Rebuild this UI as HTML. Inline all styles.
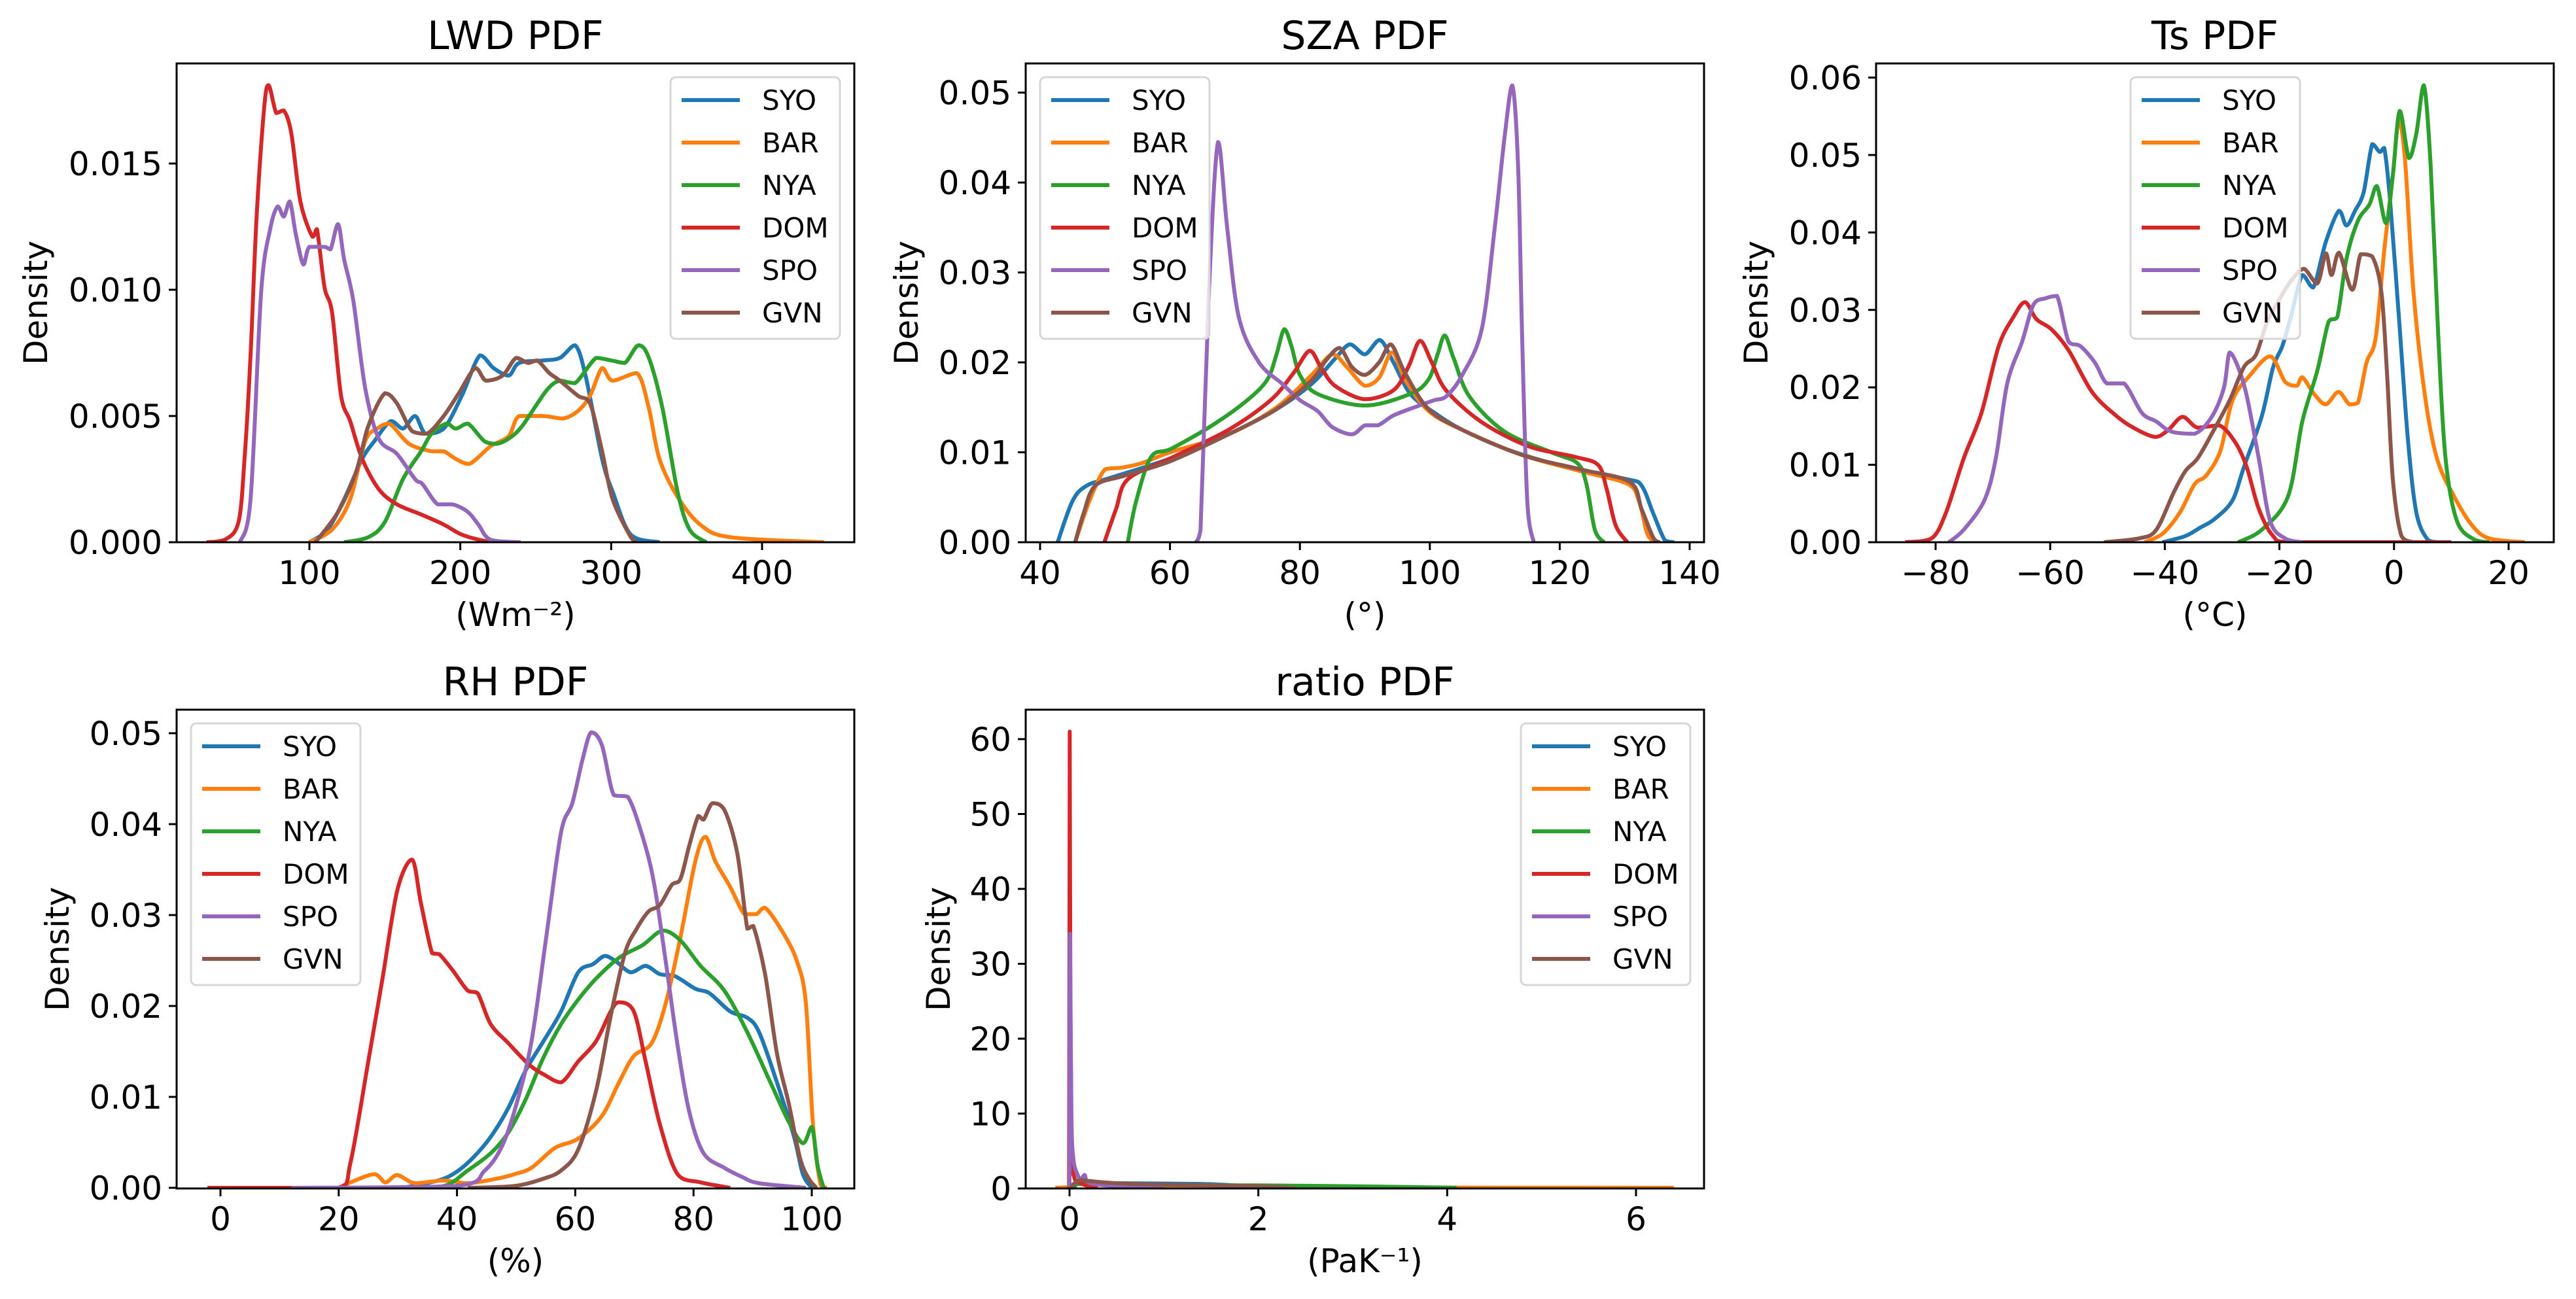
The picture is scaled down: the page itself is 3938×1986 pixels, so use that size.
<!DOCTYPE html>
<html><head><meta charset="utf-8"><style>
html,body{margin:0;padding:0;background:#fff;}
svg{display:block;font-family:"DejaVu Sans","Liberation Sans",sans-serif;}
</style></head><body>
<svg id="fig" xmlns="http://www.w3.org/2000/svg" width="3938" height="1986" viewBox="0 0 3938 1986"></svg>
<script>
// ---------- DATA ----------
const stations = ["SYO","BAR","NYA","DOM","SPO","GVN"];
const colors = ["#1f77b4","#ff7f0e","#2ca02c","#d62728","#9467bd","#8c564b"];

// LWD
const lwd_SYO_x=[100,112,123,135,143,154,162,170,177,189,201,213,222,232,239,255,266,276,283,294,301,313,332];
const lwd_SYO_y=[0,0.0005,0.0017,0.0033,0.004,0.0048,0.0045,0.005,0.0043,0.0045,0.0058,0.0074,0.0069,0.0066,0.0071,0.0072,0.0073,0.0078,0.0066,0.0033,0.002,0.0003,0];
const lwd_BAR_x=[100,115,127,137,145,153,166,181,189,197,206,220,232,239,255,268,278,286,294,301,317,325,332,344,359,379,441];
const lwd_BAR_y=[0,0.0005,0.0017,0.004,0.0045,0.0047,0.0039,0.0036,0.0036,0.0033,0.0031,0.0038,0.0042,0.005,0.005,0.0049,0.0052,0.0058,0.0069,0.0064,0.0067,0.0053,0.0033,0.0018,0.0007,0.0002,0];
const lwd_NYA_x=[123,139,150,162,174,181,191,197,205,216,224,232,241,257,266,276,290,300,309,318,325,334,344,352,363];
const lwd_NYA_y=[0,0.0002,0.0008,0.0025,0.0036,0.0043,0.0047,0.0045,0.0047,0.004,0.0039,0.0041,0.0046,0.006,0.0064,0.0063,0.0073,0.0072,0.0071,0.0078,0.0073,0.0053,0.002,0.0005,0];
const lwd_DOM_x=[32,44,53,57,61,65,70,73,78,83,88,94,102,105,110,115,121,127,135,146,158,174,189,201,216,225];
const lwd_DOM_y=[0,0.0001,0.0008,0.0033,0.0074,0.0129,0.0172,0.0181,0.0170,0.0171,0.0162,0.0135,0.0121,0.0124,0.0101,0.0091,0.0058,0.0048,0.0033,0.0021,0.0015,0.0011,0.0007,0.0003,0.00005,0];
const lwd_SPO_x=[54,61,68,74,79,83,87,91,96,100,110,114,119,123,129,137,146,158,170,175,185,195,205,212,220,240];
const lwd_SPO_y=[0,0.0017,0.0099,0.0124,0.0133,0.0129,0.0135,0.0122,0.011,0.0117,0.0117,0.0116,0.0126,0.0112,0.0096,0.0061,0.0041,0.0035,0.0025,0.0023,0.0015,0.0015,0.0012,0.0007,0.0001,0];
const lwd_GVN_x=[104,119,131,139,150,158,168,178,189,199,210,217,228,237,245,251,259,266,278,286,294,301,313,317];
const lwd_GVN_y=[0,0.0012,0.0028,0.0046,0.0059,0.0055,0.0044,0.0043,0.005,0.0059,0.0069,0.0064,0.0066,0.0073,0.0071,0.0072,0.0067,0.0064,0.0058,0.0055,0.0036,0.0017,0.0002,0];

// SZA
const sza_SYO_x=[42.7,45,47.2,51,60,69,76.4,81.8,85.4,87.7,90,92.3,94.4,97,100.7,105,112.4,121.4,130.4,132.6,134.4,136.2,137.6];
const sza_SYO_y=[0,0.0046,0.0063,0.0072,0.0093,0.012,0.0148,0.0176,0.0204,0.022,0.0209,0.0225,0.02,0.0165,0.0144,0.0125,0.0102,0.0083,0.007,0.0063,0.0032,0.0002,0];
const sza_BAR_x=[45.4,47.6,50,52.6,55.7,60,69,76.4,81.8,85,87.2,90,92.2,94.2,96.2,99.8,105,114.2,123.2,130.4,132.2,133.5,134.9];
const sza_BAR_y=[0,0.0046,0.0081,0.0083,0.0088,0.01,0.012,0.015,0.0186,0.0209,0.0195,0.0174,0.0183,0.0211,0.0181,0.0146,0.0125,0.0097,0.0079,0.0065,0.0046,0.0009,0];
const sza_NYA_x=[53.5,54.8,57.1,60.2,66.5,71.9,75,76.4,77.6,78.7,80,82.7,90,97,99.8,101.2,102.3,103.7,106.1,111.5,118.7,122.7,124.1,125.4,126.8];
const sza_NYA_y=[0,0.0046,0.0095,0.0104,0.013,0.0158,0.0181,0.0209,0.0237,0.0218,0.0186,0.0165,0.0152,0.0165,0.0181,0.0209,0.023,0.0204,0.0162,0.0123,0.01,0.0088,0.0065,0.0014,0];
const sza_DOM_x=[49.9,51.7,53.5,60,69,75.5,79,81.5,83.2,85.4,90,94.4,96.7,98.5,100.3,102.5,107.9,115.1,122.3,125.9,127.2,128.6,130.4];
const sza_DOM_y=[0,0.0037,0.007,0.0093,0.0125,0.0158,0.0188,0.0213,0.0195,0.0174,0.0159,0.0169,0.0195,0.0224,0.02,0.0169,0.0134,0.0107,0.0095,0.0086,0.006,0.0019,0];
const sza_SPO_x=[64,64.7,66,67.4,68.8,70.6,73.7,77.3,80,82.7,85,88,90,92,94.4,98,100.7,102.5,105,108,110,111.5,112.7,113.6,114.2,115,116];
const sza_SPO_y=[0,0.0014,0.028,0.0445,0.035,0.025,0.02,0.0176,0.0158,0.0146,0.0128,0.012,0.013,0.013,0.0141,0.0151,0.0158,0.0162,0.0186,0.0237,0.035,0.045,0.0508,0.0417,0.0232,0.0046,0];
const sza_GVN_x=[45.4,46.7,48.5,53,60,69,76.4,81.8,84,86.1,88,90,92.2,94,96.2,99.8,105,114.2,123.2,130.8,132.6,134.4,135.3];
const sza_GVN_y=[0,0.0032,0.0063,0.0074,0.009,0.012,0.0148,0.018,0.0202,0.0216,0.0195,0.0186,0.02,0.022,0.0188,0.0148,0.0125,0.0097,0.0081,0.0067,0.0037,0.0005,0];

// Ts
const ts_SYO_x=[-40.4,-36.4,-33.8,-31.3,-28.2,-26.2,-23.1,-21.1,-19.5,-18,-16,-14.1,-11.9,-9.6,-8.3,-6.8,-5.3,-3.8,-2.5,-1.7,-0.7,0.8,2.4,3.9,5.9,7.5];
const ts_SYO_y=[0,0.0008,0.0019,0.003,0.0054,0.0097,0.0162,0.0226,0.0253,0.0291,0.0345,0.0329,0.0388,0.0428,0.0409,0.0428,0.0452,0.0514,0.0504,0.0509,0.0442,0.0296,0.0135,0.0038,0.0003,0];
const ts_BAR_x=[-43.5,-40.4,-37.4,-34.8,-32.8,-30.3,-28.2,-25.2,-21.6,-19,-17,-16,-13.9,-11.9,-9.7,-7.8,-6.3,-4.8,-3.2,-1.7,-0.2,0.8,1.9,3.4,5.4,7.5,10.5,13.6,16.6,22.8];
const ts_BAR_y=[0,0.0011,0.0038,0.0075,0.0086,0.0118,0.0183,0.0215,0.024,0.0207,0.0202,0.0213,0.0191,0.0178,0.0194,0.0178,0.018,0.0232,0.0264,0.0377,0.0474,0.0544,0.0496,0.0323,0.0189,0.0108,0.0059,0.0022,0.0005,0];
const ts_NYA_x=[-27.2,-23.1,-18.5,-16,-13.4,-11.4,-9.9,-8.3,-6.3,-4.3,-3,-1.4,-0.2,1,2.6,3.9,5.2,6.4,7.7,9,11,14.1,16.6];
const ts_NYA_y=[0,0.0016,0.0059,0.0156,0.0221,0.0285,0.0291,0.0366,0.0415,0.0436,0.046,0.0412,0.0474,0.0557,0.0496,0.0528,0.059,0.0485,0.0269,0.0108,0.0027,0.0003,0];
const ts_DOM_x=[-85.3,-80.7,-78.2,-75.1,-72,-69,-66.4,-64.4,-62.4,-59.8,-56.8,-52.7,-48.6,-45.5,-41.7,-39.4,-36.9,-34.3,-30.5,-27.7,-25.7,-23.6,-21.1,-18,10];
const ts_DOM_y=[0,0.0005,0.0038,0.0108,0.0167,0.0253,0.0291,0.031,0.0288,0.0275,0.0248,0.0194,0.0164,0.0148,0.0136,0.0145,0.0162,0.0148,0.0151,0.0129,0.0097,0.0043,0.0008,0,0];
const ts_SPO_x=[-77.7,-75.1,-71.5,-69.5,-67.5,-64.9,-62.9,-60.8,-58.8,-56.8,-54.7,-52.2,-50.1,-47.1,-44,-41.5,-38.9,-34.8,-31.8,-29.7,-28.7,-27.2,-25.7,-23.6,-21.6,-19,-16];
const ts_SPO_y=[0,0.0016,0.0054,0.0108,0.0205,0.0259,0.0307,0.0315,0.0318,0.0259,0.0253,0.0232,0.0205,0.0205,0.0167,0.0156,0.0143,0.014,0.0162,0.0199,0.0245,0.0226,0.0189,0.0108,0.0027,0.0005,0];
const ts_GVN_x=[-50.6,-44.5,-41.5,-38.4,-36.4,-34.3,-31.8,-28.7,-26.2,-24.1,-22.1,-19.5,-17.5,-15.7,-13.4,-11.9,-10.9,-9.6,-7.3,-5.8,-3.8,-2.2,-1.2,-0.2,1.3,3.4];
const ts_GVN_y=[0,0.0005,0.0016,0.0065,0.0092,0.0108,0.014,0.0183,0.0226,0.0242,0.0285,0.032,0.0342,0.0353,0.0334,0.0373,0.0345,0.0374,0.0326,0.0372,0.0369,0.0323,0.0215,0.0081,0.0008,0];

// RH
const rh_SYO_x=[30.9,36.8,39.8,42.7,45.7,48.7,51.6,54.6,57.6,60.5,63,65,66.9,69.4,71.9,74.3,76.8,80.3,82.7,86.2,89.1,91.1,94.1,97,98.5,100];
const rh_SYO_y=[0,0.0008,0.0017,0.0033,0.0056,0.0088,0.0129,0.0161,0.0194,0.0237,0.0246,0.0255,0.0249,0.0237,0.0244,0.0235,0.0233,0.0219,0.0214,0.0194,0.0187,0.0171,0.0116,0.0056,0.0015,0];
const rh_BAR_x=[20,22,26,27.9,29.9,32.9,37.8,41.8,46.7,49.7,52.6,56.6,60.5,64.5,67.4,69.9,72.9,75.3,77.8,80.3,82,83.7,86.2,88.6,90.6,92.1,95.1,97.5,99,100.2,101.5,102.5];
const rh_BAR_y=[0,0.0006,0.0015,0.0006,0.0014,0.0005,0.0008,0.0005,0.001,0.0015,0.0022,0.0044,0.0054,0.0079,0.0116,0.0145,0.0159,0.0203,0.0276,0.0359,0.0386,0.0359,0.0331,0.0301,0.0301,0.0308,0.0281,0.0249,0.0203,0.007,0.0003,0];
const rh_NYA_x=[30.9,37.8,41.8,45.7,48.7,51.6,54.6,57.6,60.5,63.5,67.4,71.4,74.8,77.8,81.2,85.2,89.1,93,96,98.5,100,101,102];
const rh_NYA_y=[0,0.0002,0.0019,0.0038,0.0061,0.0097,0.0143,0.018,0.0207,0.023,0.0253,0.0267,0.0283,0.0272,0.0244,0.0217,0.0171,0.0116,0.0074,0.0049,0.0067,0.0024,0];
const rh_DOM_x=[-2.2,20,22,25,27.4,29.9,32.4,33.9,35.8,37,39.3,41.8,43.5,45.7,48.7,52.1,54.6,57.6,60.5,63.5,66,67.4,69.9,71.9,74.3,77.3,81.2,86.2];
const rh_DOM_y=[0,0,0.0028,0.0139,0.023,0.0327,0.0361,0.0313,0.0258,0.0257,0.0239,0.0217,0.0214,0.018,0.0159,0.0136,0.0125,0.0116,0.0139,0.0161,0.0194,0.0204,0.0194,0.0139,0.007,0.0015,0.0006,0];
const rh_SPO_x=[12,39.8,44.7,47.7,50.1,52.6,55.1,57.6,59.5,61.3,62.7,64.5,66.5,68.9,71.4,73.3,75.3,77.3,79.3,81.7,85.2,88.2,91.1,99];
const rh_SPO_y=[0,0.0002,0.0019,0.0047,0.0093,0.0161,0.0276,0.0391,0.0423,0.0473,0.0501,0.0487,0.0432,0.043,0.0386,0.0336,0.0249,0.0157,0.0083,0.0038,0.0022,0.0012,0.0005,0];
const rh_GVN_x=[41.8,49.7,54.6,57.6,60.5,63.5,66,68.4,70.4,72.4,74.3,76.3,77.8,79.3,80.8,81.7,83.2,85.2,87.4,89.1,90.1,92.1,94.1,96.1,98,99.5,100.8];
const rh_GVN_y=[0,0.0002,0.001,0.0019,0.0042,0.0106,0.0189,0.0258,0.0285,0.0304,0.0311,0.0333,0.034,0.0377,0.0409,0.0405,0.0423,0.0416,0.0368,0.0285,0.0288,0.0235,0.0148,0.0093,0.0033,0.001,0];

// ratio
const ratio_SYO_x=[0.05,0.1,0.5,1.4,2,3,4];
const ratio_SYO_y=[0,0.8,0.7,0.6,0.3,0.1,0];
const ratio_BAR_x=[-0.15,0,0.1,0.5,2.1,3,6.4];
const ratio_BAR_y=[0.1,0.2,0.8,0.4,0.4,0.15,0.1];
const ratio_NYA_x=[0,0.1,0.5,2,3,4.1];
const ratio_NYA_y=[0,0.6,0.5,0.4,0.3,0.1];
const ratio_DOM_x=[-0.02,-0.005,0.002,0.008,0.02,0.05,0.1,0.2,0.3];
const ratio_DOM_y=[0,0,61,30,5,1.5,0.8,0.3,0];
const ratio_SPO_x=[0,0.005,0.02,0.04,0.08,0.12,0.16,0.2,0.4,0.8,1.0];
const ratio_SPO_y=[0,34,10,4,2,1.2,1.8,0.8,0.4,0.1,0];
const ratio_GVN_x=[0,0.1,0.2,0.5,1.0,2,2.4];
const ratio_GVN_y=[0,1.1,1.0,0.7,0.5,0.3,0];

// ticks
const lwdXTicks=[100,200,300,400], lwdYTicks=[0,0.005,0.010,0.015], lwdYLabels=["0.000","0.005","0.010","0.015"];
const szaXTicks=[40,60,80,100,120,140], szaYTicks=[0,0.01,0.02,0.03,0.04,0.05], szaYLabels=["0.00","0.01","0.02","0.03","0.04","0.05"];
const tsXTicks=[-80,-60,-40,-20,0,20], tsYTicks=[0,0.01,0.02,0.03,0.04,0.05,0.06], tsYLabels=["0.00","0.01","0.02","0.03","0.04","0.05","0.06"];
const rhXTicks=[0,20,40,60,80,100], rhYTicks=[0,0.01,0.02,0.03,0.04,0.05], rhYLabels=["0.00","0.01","0.02","0.03","0.04","0.05"];
const ratioXTicks=[0,2,4,6], ratioYTicks=[0,10,20,30,40,50,60], ratioYLabels=["0","10","20","30","40","50","60"];

// ---------- LAYOUT ----------
const panels=[
 {id:"lwd",title:"LWD PDF",xlabel:"(Wm\u207B\u00B2)",box:[270,97,1306,829],xa:[100,473,400,1165],ya:[0,829,0.015,250],
  xt:lwdXTicks,yt:lwdYTicks,yl:lwdYLabels,ylx:54,leg:[1025,118],
  xs:[lwd_SYO_x,lwd_BAR_x,lwd_NYA_x,lwd_DOM_x,lwd_SPO_x,lwd_GVN_x],ys:[lwd_SYO_y,lwd_BAR_y,lwd_NYA_y,lwd_DOM_y,lwd_SPO_y,lwd_GVN_y]},
 {id:"sza",title:"SZA PDF",xlabel:"(\u00B0)",box:[1568,97,2605,829],xa:[40,1590,140,2583],ya:[0,829,0.05,141.6],
  xt:szaXTicks,yt:szaYTicks,yl:szaYLabels,ylx:1385,leg:[1590,118],
  xs:[sza_SYO_x,sza_BAR_x,sza_NYA_x,sza_DOM_x,sza_SPO_x,sza_GVN_x],ys:[sza_SYO_y,sza_BAR_y,sza_NYA_y,sza_DOM_y,sza_SPO_y,sza_GVN_y]},
 {id:"ts",title:"Ts PDF",xlabel:"(\u00B0C)",box:[2868,97,3904,829],xa:[-80,2959,20,3835],ya:[0,829,0.06,118.6],
  xt:tsXTicks,yt:tsYTicks,yl:tsYLabels,ylx:2684,leg:[3257,118],
  xs:[ts_SYO_x,ts_BAR_x,ts_NYA_x,ts_DOM_x,ts_SPO_x,ts_GVN_x],ys:[ts_SYO_y,ts_BAR_y,ts_NYA_y,ts_DOM_y,ts_SPO_y,ts_GVN_y]},
 {id:"rh",title:"RH PDF",xlabel:"(%)",box:[270,1085,1306,1817],xa:[0,337,100,1241],ya:[0,1816,0.05,1121],
  xt:rhXTicks,yt:rhYTicks,yl:rhYLabels,ylx:87,leg:[292,1106],
  xs:[rh_SYO_x,rh_BAR_x,rh_NYA_x,rh_DOM_x,rh_SPO_x,rh_GVN_x],ys:[rh_SYO_y,rh_BAR_y,rh_NYA_y,rh_DOM_y,rh_SPO_y,rh_GVN_y]},
 {id:"ratio",title:"ratio PDF",xlabel:"(PaK\u207B\u00B9)",box:[1568,1085,2605,1817],xa:[0,1635,6,2501],ya:[0,1817,60,1130],
  xt:ratioXTicks,yt:ratioYTicks,yl:ratioYLabels,ylx:1434,leg:[2325,1106],
  xs:[ratio_SYO_x,ratio_BAR_x,ratio_NYA_x,ratio_DOM_x,ratio_SPO_x,ratio_GVN_x],ys:[ratio_SYO_y,ratio_BAR_y,ratio_NYA_y,ratio_DOM_y,ratio_SPO_y,ratio_GVN_y]}
];

const NS="http://www.w3.org/2000/svg";
const svg=document.getElementById("fig");
function mk(tag,attrs,parent){const e=document.createElementNS(NS,tag);for(const k in attrs)e.setAttribute(k,attrs[k]);(parent||svg).appendChild(e);return e;}
function fmtTick(v){return String(v).replace("-","\u2212");}
function clampv(v,a,b){const lo=Math.min(a,b),hi=Math.max(a,b);return Math.max(lo,Math.min(hi,v));}

function smoothPath(pts){
  if(pts.length<2)return "";
  let d="M"+pts[0][0].toFixed(1)+","+pts[0][1].toFixed(1);
  for(let i=0;i<pts.length-1;i++){
    const p0=pts[Math.max(0,i-1)],p1=pts[i],p2=pts[i+1],p3=pts[Math.min(pts.length-1,i+2)];
    const t=0.16;
    const c1=[clampv(p1[0]+(p2[0]-p0[0])*t,p1[0],p2[0]),clampv(p1[1]+(p2[1]-p0[1])*t,p1[1],p2[1])];
    const c2=[clampv(p2[0]-(p3[0]-p1[0])*t,p1[0],p2[0]),clampv(p2[1]-(p3[1]-p1[1])*t,p1[1],p2[1])];
    d+=" C"+c1[0].toFixed(1)+","+c1[1].toFixed(1)+" "+c2[0].toFixed(1)+","+c2[1].toFixed(1)+" "+p2[0].toFixed(1)+","+p2[1].toFixed(1);
  }
  return d;
}

panels.forEach(p=>{
  const [L,T,R,B]=p.box;
  const sx=v=>p.xa[1]+(v-p.xa[0])*(p.xa[3]-p.xa[1])/(p.xa[2]-p.xa[0]);
  const sy=v=>p.ya[1]+(v-p.ya[0])*(p.ya[3]-p.ya[1])/(p.ya[2]-p.ya[0]);
  const g=mk("g",{});
  
  
  const clipId="clip-"+p.id;
  const cp=mk("clipPath",{id:clipId},g);
  mk("rect",{x:L,y:T,width:R-L,height:B-T},cp);

  const sg=mk("g",{"clip-path":"url(#"+clipId+")"},g);
  p.xs.forEach((xs,i)=>{
    const pts=xs.map((x,j)=>[sx(x),sy(p.ys[i][j])]);
    const path=mk("path",{d:smoothPath(pts),fill:"none",stroke:colors[i],"stroke-width":6,"stroke-linejoin":"round","stroke-linecap":"butt"},sg);
    
    
  });

  const fr=mk("rect",{x:L,y:T,width:R-L,height:B-T,fill:"none",stroke:"#000","stroke-width":3},g);
  
  

  p.xt.forEach(v=>{
    const x=sx(v);
    mk("line",{x1:x,y1:B,x2:x,y2:B+12,stroke:"#000","stroke-width":3},g);
    const t=mk("text",{x:x,y:B+64,"font-size":50,"text-anchor":"middle",fill:"#000"},g);
    t.textContent=fmtTick(v);
    
    
  });
  p.yt.forEach((v,k)=>{
    const y=sy(v);
    mk("line",{x1:L-12,y1:y,x2:L,y2:y,stroke:"#000","stroke-width":3},g);
    const t=mk("text",{x:L-22,y:y+18,"font-size":50,"text-anchor":"end",fill:"#000"},g);
    t.textContent=p.yl[k];
    
    
  });
  const tt=mk("text",{x:(L+R)/2,y:T-22,"font-size":60,"text-anchor":"middle",fill:"#000"},g);
  tt.textContent=p.title;
  
  
  const xl=mk("text",{x:(L+R)/2,y:B+128,"font-size":50,"text-anchor":"middle",fill:"#000"},g);
  xl.textContent=p.xlabel;
  
  
  const yc=(T+B)/2, yx=p.ylx+18;
  const yl=mk("text",{x:yx,y:yc,"font-size":50,"text-anchor":"middle",fill:"#000",transform:"rotate(-90 "+yx+" "+yc+")"},g);
  yl.textContent="Density";
  
  

  const [lx,ly]=p.leg;
  const lg=mk("g",{},g);
  
  
  mk("rect",{x:lx,y:ly,width:259,height:400,rx:8,ry:8,fill:"#fff","fill-opacity":0.8,stroke:"#d6d6d6","stroke-width":3},lg);
  stations.forEach((s,i)=>{
    const ry=ly+35+65*i;
    const e=mk("g",{},lg);
    
    
    mk("line",{x1:lx+17,y1:ry,x2:lx+106,y2:ry,stroke:colors[i],"stroke-width":6},e);
    const t=mk("text",{x:lx+140,y:ry+15,"font-size":42,fill:"#000"},e);
    t.textContent=s;
  });
});
</script>
</body></html>
